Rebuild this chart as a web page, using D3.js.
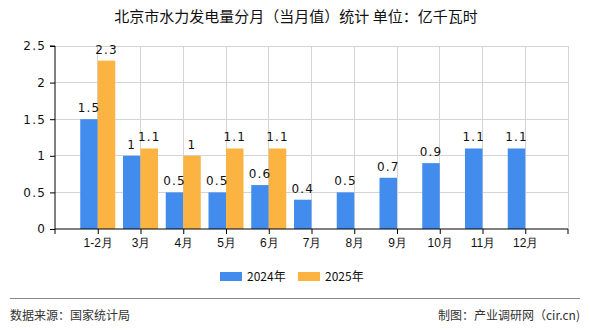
<!DOCTYPE html>
<html><head><meta charset="utf-8">
<script src="https://cdn.jsdelivr.net/npm/d3@7/dist/d3.min.js"></script>
<style>
body{margin:0;background:#fff;}
svg{display:block;font-family:"Noto Sans CJK SC","Noto Sans",sans-serif;}
</style></head><body>
<svg id="c" width="590" height="330"></svg>
<script>
const categories = ["1-2月","3月","4月","5月","6月","7月","8月","9月","10月","11月","12月"];
const series2024 = [1.5,1,0.5,0.5,0.6,0.4,0.5,0.7,0.9,1.1,1.1];
const series2025 = [2.3,1.1,1,1.1,1.1,null,null,null,null,null,null];
const seriesNames = ["2024年","2025年"];
const colors = ["#428cee","#fbb342"];
const yTicks = [0,0.5,1,1.5,2,2.5];
const yTickLabels = ["0","0.5","1","1.5","2","2.5"];
const title = "北京市水力发电量分月（当月值）统计 单位：亿千瓦时";
const source = "数据来源：国家统计局";
const credit = "制图：产业调研网（cir.cn)";

const svg = d3.select("#c");
const L=55,R=568,T=46,B=229;
const x = d3.scalePoint().domain(categories).range([L,R]).padding(1);
const y = d3.scaleLinear().domain([0,2.5]).range([B,T]);
const bw = 17.5;
const numFont = "'DejaVu Sans',sans-serif";

// title
svg.append("text").attr("x",296).attr("y",22).attr("text-anchor","middle")
  .attr("font-size",15).attr("fill","#111").text(title);

// grid horizontal
svg.append("g").selectAll("line").data(yTicks.slice(1)).join("line")
  .attr("x1",L).attr("x2",R).attr("y1",d=>y(d)).attr("y2",d=>y(d))
  .attr("stroke","#d4d4d4").attr("stroke-width",1).attr("shape-rendering","crispEdges");
// grid vertical
const vx = categories.map(c=>x(c)).concat([R]);
svg.append("g").selectAll("line").data(vx).join("line")
  .attr("x1",d=>d).attr("x2",d=>d).attr("y1",T).attr("y2",B)
  .attr("stroke","#d4d4d4").attr("stroke-width",1).attr("shape-rendering","crispEdges");

// bars
const g = svg.append("g");
g.selectAll("rect.a").data(series2024).join("rect").attr("class","a")
  .attr("x",(d,i)=>x(categories[i])-bw).attr("width",bw)
  .attr("y",d=>y(d)).attr("height",d=>B-y(d)).attr("fill",colors[0]);
g.selectAll("rect.b").data(series2025.map((v,i)=>({v,i})).filter(d=>d.v!=null)).join("rect").attr("class","b")
  .attr("x",d=>x(categories[d.i])).attr("width",bw)
  .attr("y",d=>y(d.v)).attr("height",d=>B-y(d.v)).attr("fill",colors[1]);

// labels
g.selectAll("text.a").data(series2024).join("text").attr("class","a")
  .attr("x",(d,i)=>x(categories[i])-bw/2).attr("y",d=>y(d)-7)
  .attr("text-anchor","middle").attr("font-size",12).attr("letter-spacing",1.2)
  .attr("font-family",numFont).attr("fill","#111").text(d=>d);
g.selectAll("text.b").data(series2025.map((v,i)=>({v,i})).filter(d=>d.v!=null)).join("text").attr("class","b")
  .attr("x",d=>x(categories[d.i])+bw/2).attr("y",d=>y(d.v)-7)
  .attr("text-anchor","middle").attr("font-size",12).attr("letter-spacing",1.2)
  .attr("font-family",numFont).attr("fill","#111").text(d=>d.v);

// y axis
const ya = svg.append("g").attr("transform",`translate(${L},0)`)
  .call(d3.axisLeft(y).tickValues(yTicks).tickFormat((d,i)=>yTickLabels[i]).tickSize(5).tickPadding(4));
ya.select(".domain").attr("stroke","#000").attr("d",`M-5,${T}H0V${B}`);
ya.selectAll(".tick line").attr("stroke","#000");
ya.selectAll(".tick text").attr("font-size",12).attr("font-family",numFont).attr("letter-spacing",1.2).attr("fill","#111");

// x axis
const xa = svg.append("g").attr("transform",`translate(0,${B})`)
  .call(d3.axisBottom(x).tickSize(5).tickPadding(4));
xa.select(".domain").attr("stroke","#000").attr("d",`M${L},5V0H${R}V5`);
xa.selectAll(".tick line").attr("stroke","#000");
xa.selectAll(".tick text").attr("font-size",12).attr("fill","#111");

// legend
const lg = svg.append("g");
[[220,0],[298,1]].forEach(([lx,i])=>{
  lg.append("rect").attr("x",lx).attr("y",272).attr("width",22).attr("height",9).attr("fill",colors[i]);
  lg.append("text").attr("x",lx+27).attr("y",281).attr("font-size",12).attr("fill","#111").text(seriesNames[i]);
});

// footer
svg.append("line").attr("x1",10).attr("x2",580).attr("y1",298.5).attr("y2",298.5).attr("stroke","#888");
svg.append("text").attr("x",10).attr("y",320).attr("font-size",12).attr("fill","#333").text(source);
svg.append("text").attr("x",580).attr("y",320).attr("text-anchor","end").attr("font-size",12).attr("fill","#333").text(credit);
</script></body></html>
